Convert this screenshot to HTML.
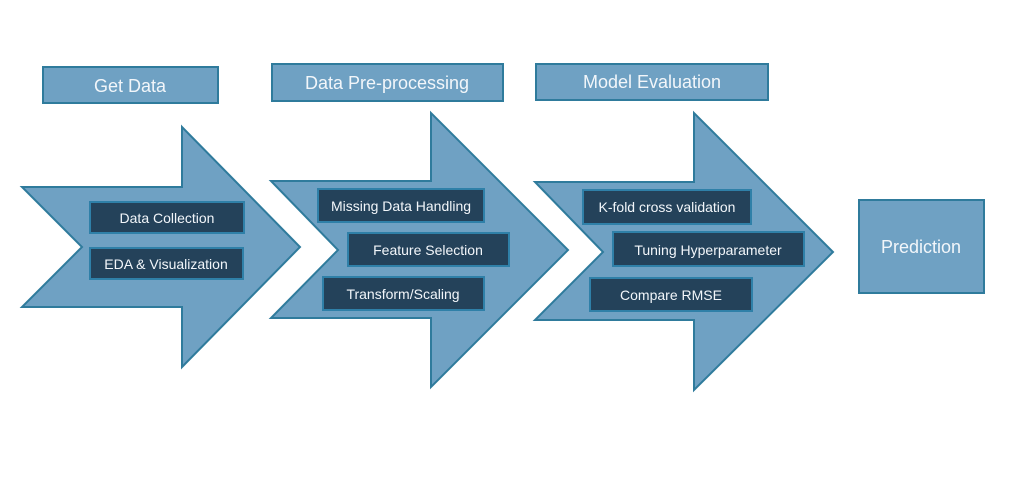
<!DOCTYPE html>
<html><head><meta charset="utf-8"><style>
html,body{margin:0;padding:0;background:#fff;width:1024px;height:478px;overflow:hidden}
svg text{font-family:"Liberation Sans",sans-serif;fill:#f2f6fa}
</style></head><body>
<svg width="1024" height="478" viewBox="0 0 1024 478" xmlns="http://www.w3.org/2000/svg">
<g fill="#6fa1c3" stroke="#2f7b9c" stroke-width="2">
<polygon points="22,187 182,187 182,127 300,247 182,367 182,307 22,307 82,247"/>
<polygon points="271,181 431,181 431,113 568,250 431,387 431,318 271,318 338,250"/>
<polygon points="535,182 694,182 694,113 833,252 694,390 694,320 535,320 603,252"/>
<rect x="43" y="67" width="175" height="36"/>
<rect x="272" y="64" width="231" height="37"/>
<rect x="536" y="64" width="232" height="36"/>
<rect x="859" y="200" width="125" height="93"/>
</g>
<g fill="#24425a" stroke="#2f80a8" stroke-width="2">
<rect x="90" y="202" width="154" height="31"/>
<rect x="90" y="248" width="153" height="31"/>
<rect x="318" y="189" width="166" height="33"/>
<rect x="348" y="233" width="161" height="33"/>
<rect x="323" y="277" width="161" height="33"/>
<rect x="583" y="190" width="168" height="34"/>
<rect x="613" y="232" width="191" height="34"/>
<rect x="590" y="278" width="162" height="33"/>
</g>
<g font-size="18" text-anchor="middle">
<text x="130" y="92">Get Data</text>
<text x="387" y="89">Data Pre-processing</text>
<text x="652" y="88">Model Evaluation</text>
<text x="921" y="253">Prediction</text>
</g>
<g font-size="14" text-anchor="middle">
<text x="167" y="223">Data Collection</text>
<text x="166" y="269">EDA &amp; Visualization</text>
<text x="401" y="211">Missing Data Handling</text>
<text x="428" y="255">Feature Selection</text>
<text x="403" y="299">Transform/Scaling</text>
<text x="667" y="212">K-fold cross validation</text>
<text x="708" y="255">Tuning Hyperparameter</text>
<text x="671" y="300">Compare RMSE</text>
</g>
</svg>
</body></html>
